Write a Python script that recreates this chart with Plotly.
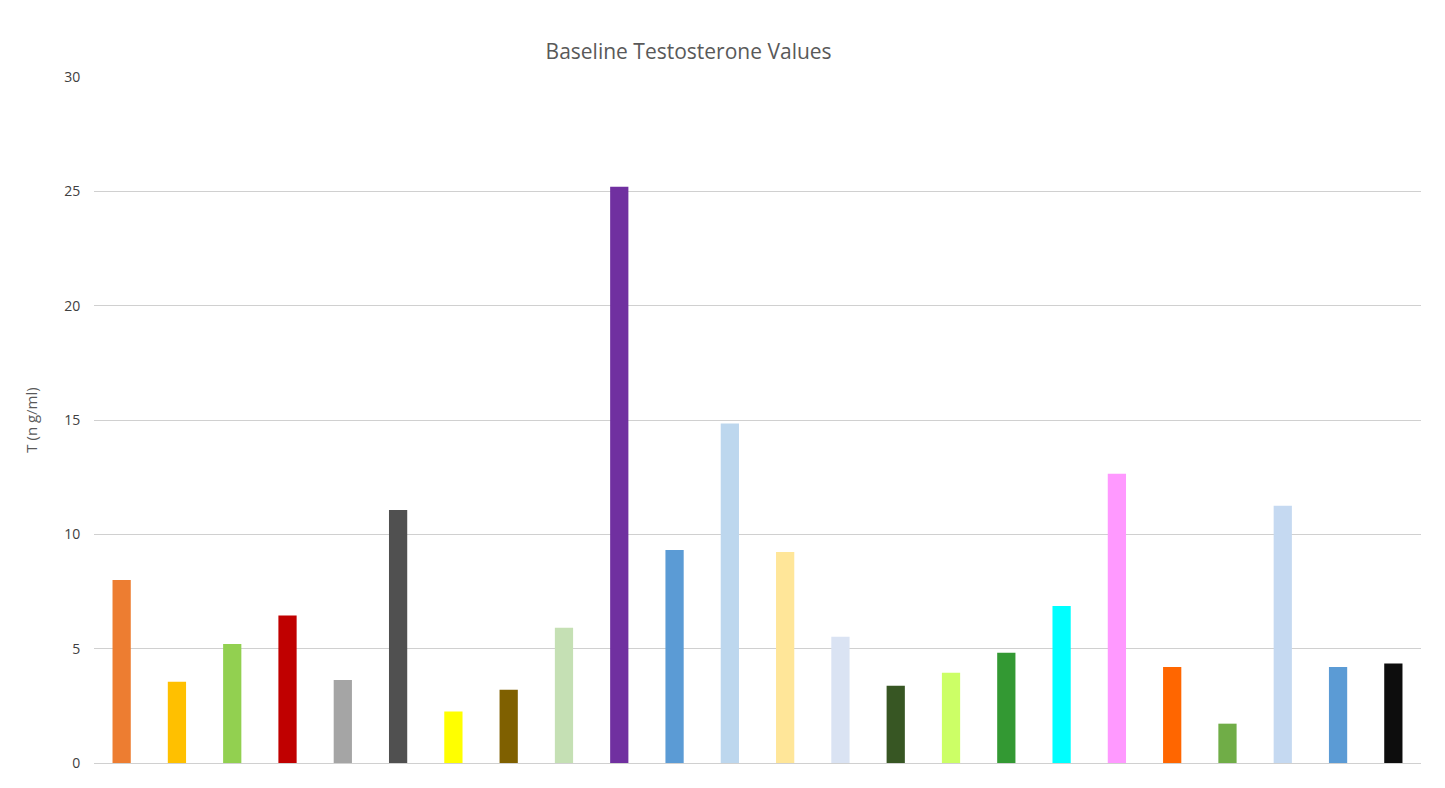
import plotly.graph_objects as go

subjects = list(range(1, 25))
values = [8.0, 3.55, 5.2, 6.45, 3.63, 11.06, 2.25, 3.2, 5.92, 25.2, 9.31, 14.85,
          9.23, 5.52, 3.38, 3.95, 4.82, 6.87, 12.65, 4.2, 1.72, 11.25, 4.2, 4.35]
colors = ['#ED7D31', '#FFC000', '#92D050', '#C00000', '#A5A5A5', '#505050',
          '#FFFF00', '#7F6000', '#C5E0B4', '#7030A0', '#5B9BD5', '#BDD7EE',
          '#FFE699', '#DAE3F3', '#375623', '#CCFF66', '#339933', '#00FFFF',
          '#FF99FF', '#FF6600', '#70AD47', '#C5D9F1', '#5B9BD5', '#0D0D0D']

fig = go.Figure(go.Bar(x=subjects, y=values, marker=dict(color=colors, line_width=0)))

fig.update_layout(
    width=1445, height=788,
    paper_bgcolor='white', plot_bgcolor='white',
    font=dict(family='Open Sans, Calibri, sans-serif', color='#404040'),
    title=dict(text='Baseline Testosterone Values', x=0.471, y=0.954,
               xanchor='center', font=dict(size=21, color='#595959')),
    margin=dict(l=86, r=32, t=69, b=33),
    bargap=0.67,
    showlegend=False,
    xaxis=dict(showticklabels=False, showgrid=False, showline=True,
               linecolor='#D0D0D0', range=[0.5, 24.5]),
    yaxis=dict(range=[0, 30], dtick=5, showgrid=True, gridcolor='#D0D0D0',
               zeroline=False, tickfont=dict(size=14, color='#404040'),
               ticklen=10, ticks='outside', tickcolor='white',
               title=dict(text='T (n g/ml)', font=dict(size=15, color='#595959'),
                          standoff=22)),
)

fig.write_html("out.html")
